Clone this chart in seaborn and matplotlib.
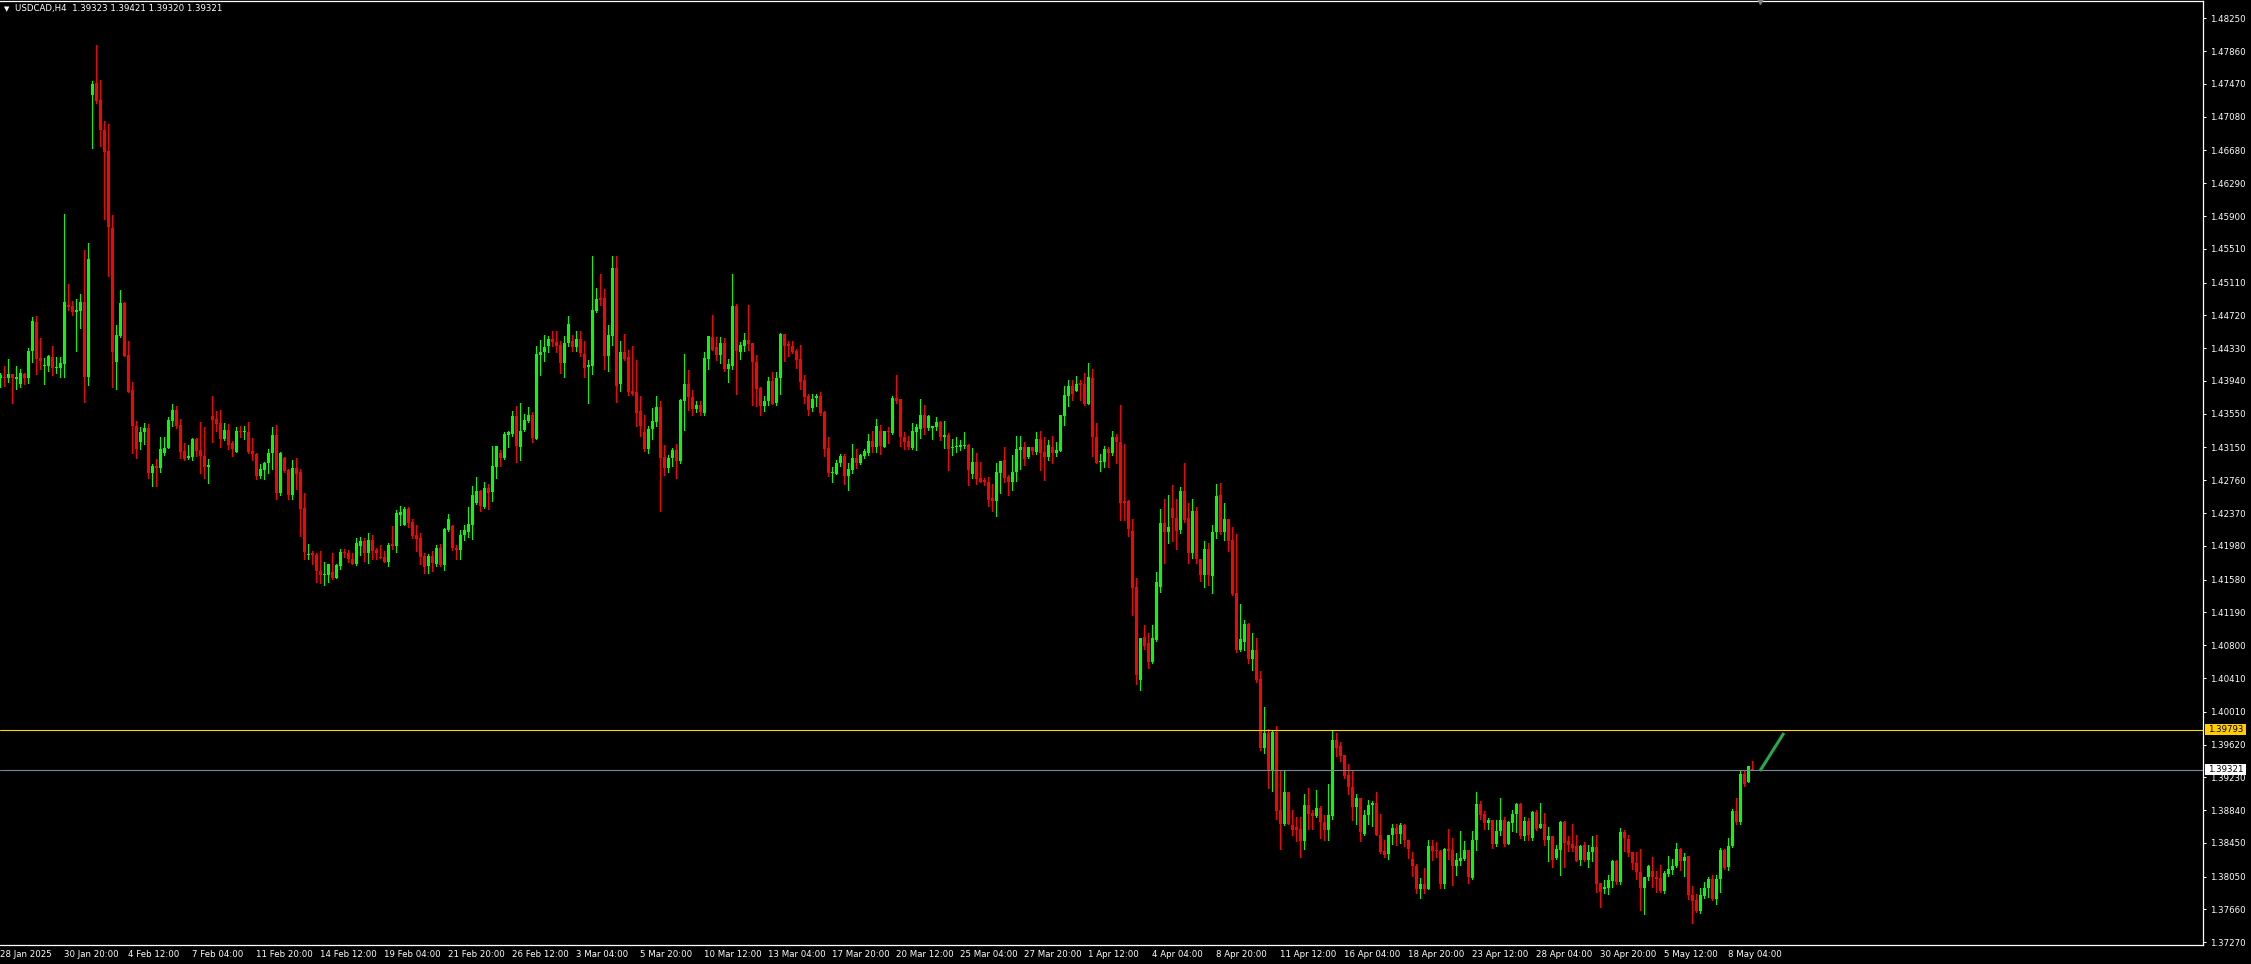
import numpy as np
import matplotlib
matplotlib.use("Agg")
import matplotlib.pyplot as plt
from matplotlib.patches import Rectangle
from matplotlib import font_manager
import seaborn as sns

# USDCAD H4 bars (oldest first)
opens = [
    1.4397, 1.4399, 1.4397, 1.4402, 1.4396, 1.4390, 1.4402, 1.4397, 1.4430, 1.4464,
    1.4421, 1.4412, 1.4412, 1.4423, 1.4409, 1.4409, 1.4414, 1.4484, 1.4483, 1.4476,
    1.4477, 1.4488, 1.4399, 1.4734, 1.4748, 1.4728, 1.4692, 1.4667, 1.4576, 1.4416,
    1.4448, 1.4487, 1.4425, 1.4383, 1.4340, 1.4321, 1.4333, 1.4338, 1.4285, 1.4293,
    1.4291, 1.4308, 1.4314, 1.4347, 1.4360, 1.4342, 1.4311, 1.4302, 1.4304, 1.4325,
    1.4312, 1.4305, 1.4292, 1.4352, 1.4349, 1.4344, 1.4325, 1.4336, 1.4320, 1.4310,
    1.4334, 1.4333, 1.4333, 1.4311, 1.4307, 1.4281, 1.4288, 1.4296, 1.4308, 1.4330,
    1.4261, 1.4303, 1.4288, 1.4258, 1.4291, 1.4286, 1.4243, 1.4187, 1.4189, 1.4187,
    1.4168, 1.4164, 1.4164, 1.4167, 1.4160, 1.4174, 1.4191, 1.4189, 1.4183, 1.4176,
    1.4198, 1.4204, 1.4190, 1.4205, 1.4193, 1.4185, 1.4185, 1.4179, 1.4200, 1.4198,
    1.4235, 1.4223, 1.4242, 1.4226, 1.4211, 1.4207, 1.4186, 1.4174, 1.4186, 1.4177,
    1.4196, 1.4175, 1.4217, 1.4222, 1.4196, 1.4193, 1.4211, 1.4215, 1.4223, 1.4249,
    1.4263, 1.4244, 1.4267, 1.4262, 1.4292, 1.4309, 1.4302, 1.4330, 1.4331, 1.4352,
    1.4316, 1.4336, 1.4347, 1.4354, 1.4325, 1.4425, 1.4429, 1.4435, 1.4444, 1.4440,
    1.4437, 1.4415, 1.4439, 1.4442, 1.4434, 1.4444, 1.4426, 1.4411, 1.4412, 1.4477,
    1.4493, 1.4493, 1.4424, 1.4448, 1.4528, 1.4391, 1.4429, 1.4422, 1.4382, 1.4381,
    1.4358, 1.4333, 1.4313, 1.4337, 1.4345, 1.4363, 1.4304, 1.4291, 1.4302, 1.4312,
    1.4299, 1.4370, 1.4391, 1.4375, 1.4361, 1.4366, 1.4356, 1.4420, 1.4446, 1.4434,
    1.4425, 1.4439, 1.4408, 1.4412, 1.4483, 1.4429, 1.4436, 1.4443, 1.4439, 1.4416,
    1.4386, 1.4364, 1.4370, 1.4394, 1.4368, 1.4397, 1.4450, 1.4438, 1.4436, 1.4430,
    1.4420, 1.4395, 1.4376, 1.4362, 1.4374, 1.4376, 1.4357, 1.4314, 1.4285, 1.4284,
    1.4296, 1.4305, 1.4281, 1.4288, 1.4303, 1.4297, 1.4305, 1.4308, 1.4323, 1.4316,
    1.4334, 1.4316, 1.4334, 1.4332, 1.4374, 1.4372, 1.4327, 1.4323, 1.4314, 1.4333,
    1.4337, 1.4353, 1.4338, 1.4338, 1.4339, 1.4345, 1.4328, 1.4330, 1.4314, 1.4315,
    1.4316, 1.4317, 1.4318, 1.4284, 1.4298, 1.4279, 1.4276, 1.4274, 1.4255, 1.4251,
    1.4285, 1.4300, 1.4280, 1.4274, 1.4286, 1.4312, 1.4316, 1.4304, 1.4315, 1.4310,
    1.4325, 1.4310, 1.4304, 1.4316, 1.4308, 1.4311, 1.4352, 1.4376, 1.4388, 1.4382,
    1.4392, 1.4390, 1.4367, 1.4398, 1.4327, 1.4298, 1.4298, 1.4313, 1.4309, 1.4327,
    1.4321, 1.4251, 1.4251, 1.4216, 1.4149, 1.4039, 1.4090, 1.4083, 1.4060, 1.4086,
    1.4149, 1.4225, 1.4215, 1.4243, 1.4231, 1.4217, 1.4263, 1.4231, 1.4189, 1.4239,
    1.4182, 1.4164, 1.4194, 1.4162, 1.4214, 1.4259, 1.4214, 1.4230, 1.4205, 1.4142,
    1.4074, 1.4084, 1.4105, 1.4064, 1.4074, 1.4040, 1.3958, 1.3976, 1.3930, 1.3977,
    1.3884, 1.3868, 1.3905, 1.3866, 1.3864, 1.3862, 1.3847, 1.3890, 1.3881, 1.3877,
    1.3887, 1.3870, 1.3861, 1.3877, 1.3967, 1.3960, 1.3949, 1.3926, 1.3912, 1.3888,
    1.3898, 1.3856, 1.3878, 1.3890, 1.3892, 1.3855, 1.3835, 1.3832, 1.3854, 1.3863,
    1.3856, 1.3866, 1.3849, 1.3826, 1.3818, 1.3790, 1.3796, 1.3790, 1.3841, 1.3837,
    1.3836, 1.3796, 1.3838, 1.3837, 1.3818, 1.3824, 1.3826, 1.3837, 1.3803, 1.3849,
    1.3891, 1.3880, 1.3869, 1.3872, 1.3844, 1.3859, 1.3872, 1.3844, 1.3869, 1.3880,
    1.3891, 1.3853, 1.3871, 1.3851, 1.3882, 1.3863, 1.3868, 1.3848, 1.3853, 1.3827,
    1.3837, 1.3870, 1.3847, 1.3844, 1.3841, 1.3825, 1.3842, 1.3825, 1.3834, 1.3840,
    1.3797, 1.3790, 1.3792, 1.3800, 1.3824, 1.3799, 1.3858, 1.3850, 1.3834, 1.3821,
    1.3810, 1.3792, 1.3804, 1.3812, 1.3804, 1.3803, 1.3788, 1.3808, 1.3813, 1.3818,
    1.3838, 1.3824, 1.3829, 1.3783, 1.3777, 1.3764, 1.3782, 1.3791, 1.3802, 1.3779,
    1.3802, 1.3837, 1.3816, 1.3841, 1.3883, 1.3870, 1.3927, 1.3917, 1.39323,
]
highs = [
    1.4404, 1.4412, 1.4420, 1.4402, 1.4412, 1.4408, 1.4404, 1.4433, 1.4470, 1.4471,
    1.4445, 1.4421, 1.4425, 1.4435, 1.4422, 1.4422, 1.4593, 1.4509, 1.4489, 1.4492,
    1.4497, 1.4550, 1.4558, 1.4750, 1.4793, 1.4752, 1.4703, 1.4699, 1.4591, 1.4461,
    1.4502, 1.4488, 1.4441, 1.4393, 1.4346, 1.4339, 1.4344, 1.4343, 1.4295, 1.4301,
    1.4328, 1.4327, 1.4351, 1.4367, 1.4364, 1.4349, 1.4320, 1.4318, 1.4326, 1.4326,
    1.4345, 1.4339, 1.4301, 1.4376, 1.4358, 1.4360, 1.4344, 1.4343, 1.4323, 1.4339,
    1.4340, 1.4340, 1.4345, 1.4326, 1.4309, 1.4295, 1.4298, 1.4313, 1.4339, 1.4342,
    1.4310, 1.4304, 1.4290, 1.4300, 1.4303, 1.4289, 1.4261, 1.4200, 1.4192, 1.4190,
    1.4192, 1.4179, 1.4177, 1.4189, 1.4176, 1.4194, 1.4194, 1.4193, 1.4189, 1.4207,
    1.4209, 1.4207, 1.4213, 1.4211, 1.4196, 1.4199, 1.4192, 1.4201, 1.4222, 1.4241,
    1.4245, 1.4244, 1.4244, 1.4230, 1.4223, 1.4213, 1.4189, 1.4188, 1.4192, 1.4199,
    1.4200, 1.4219, 1.4236, 1.4223, 1.4199, 1.4217, 1.4223, 1.4244, 1.4269, 1.4280,
    1.4265, 1.4274, 1.4272, 1.4317, 1.4317, 1.4312, 1.4333, 1.4334, 1.4358, 1.4364,
    1.4368, 1.4355, 1.4363, 1.4357, 1.4435, 1.4443, 1.4449, 1.4448, 1.4453, 1.4453,
    1.4442, 1.4448, 1.4471, 1.4449, 1.4453, 1.4453, 1.4441, 1.4419, 1.4542, 1.4505,
    1.4521, 1.4503, 1.4460, 1.4543, 1.4542, 1.4441, 1.4450, 1.4431, 1.4436, 1.4419,
    1.4376, 1.4354, 1.4341, 1.4362, 1.4376, 1.4370, 1.4318, 1.4306, 1.4314, 1.4319,
    1.4372, 1.4426, 1.4407, 1.4383, 1.4370, 1.4370, 1.4429, 1.4447, 1.4472, 1.4446,
    1.4446, 1.4445, 1.4420, 1.4521, 1.4485, 1.4440, 1.4451, 1.4484, 1.4439, 1.4425,
    1.4387, 1.4376, 1.4399, 1.4405, 1.4405, 1.4451, 1.4450, 1.4441, 1.4442, 1.4432,
    1.4437, 1.4401, 1.4379, 1.4378, 1.4379, 1.4381, 1.4358, 1.4328, 1.4292, 1.4300,
    1.4307, 1.4307, 1.4297, 1.4319, 1.4313, 1.4307, 1.4313, 1.4331, 1.4335, 1.4349,
    1.4342, 1.4335, 1.4339, 1.4376, 1.4401, 1.4372, 1.4333, 1.4329, 1.4344, 1.4343,
    1.4373, 1.4366, 1.4353, 1.4341, 1.4351, 1.4347, 1.4347, 1.4332, 1.4325, 1.4327,
    1.4324, 1.4333, 1.4319, 1.4314, 1.4309, 1.4298, 1.4279, 1.4280, 1.4272, 1.4296,
    1.4299, 1.4316, 1.4282, 1.4306, 1.4329, 1.4329, 1.4321, 1.4316, 1.4316, 1.4333,
    1.4334, 1.4327, 1.4324, 1.4329, 1.4321, 1.4354, 1.4388, 1.4395, 1.4395, 1.4400,
    1.4395, 1.4403, 1.4415, 1.4408, 1.4344, 1.4307, 1.4317, 1.4316, 1.4334, 1.4331,
    1.4365, 1.4319, 1.4253, 1.4230, 1.4160, 1.4089, 1.4104, 1.4094, 1.4104, 1.4167,
    1.4242, 1.4254, 1.4259, 1.4270, 1.4254, 1.4268, 1.4297, 1.4249, 1.4254, 1.4244,
    1.4182, 1.4204, 1.4202, 1.4223, 1.4272, 1.4273, 1.4249, 1.4230, 1.4221, 1.4212,
    1.4129, 1.4110, 1.4106, 1.4095, 1.4089, 1.4049, 1.4007, 1.3981, 1.3978, 1.3984,
    1.3932, 1.3932, 1.3905, 1.3884, 1.3876, 1.3876, 1.3903, 1.3910, 1.3884, 1.3908,
    1.3889, 1.3878, 1.3915, 1.3978, 1.3976, 1.3965, 1.3950, 1.3939, 1.3931, 1.3903,
    1.3899, 1.3884, 1.3896, 1.3895, 1.3906, 1.3879, 1.3849, 1.3854, 1.3868, 1.3868,
    1.3869, 1.3867, 1.3849, 1.3834, 1.3820, 1.3803, 1.3815, 1.3849, 1.3849, 1.3846,
    1.3837, 1.3839, 1.3862, 1.3851, 1.3833, 1.3859, 1.3847, 1.3837, 1.3859, 1.3905,
    1.3895, 1.3883, 1.3875, 1.3872, 1.3872, 1.3899, 1.3876, 1.3871, 1.3884, 1.3893,
    1.3892, 1.3876, 1.3875, 1.3883, 1.3884, 1.3893, 1.3881, 1.3864, 1.3853, 1.3842,
    1.3871, 1.3871, 1.3853, 1.3868, 1.3855, 1.3843, 1.3846, 1.3843, 1.3853, 1.3855,
    1.3798, 1.3801, 1.3807, 1.3825, 1.3825, 1.3863, 1.3860, 1.3855, 1.3834, 1.3834,
    1.3838, 1.3805, 1.3819, 1.3828, 1.3812, 1.3819, 1.3812, 1.3829, 1.3826, 1.3845,
    1.3839, 1.3833, 1.3830, 1.3794, 1.3784, 1.3792, 1.3799, 1.3804, 1.3807, 1.3807,
    1.3839, 1.3838, 1.3851, 1.3885, 1.3899, 1.3932, 1.3932, 1.3937, 1.39421,
]
lows = [
    1.4387, 1.4388, 1.4393, 1.4368, 1.4384, 1.4387, 1.4390, 1.4392, 1.4417, 1.4402,
    1.4408, 1.4390, 1.4406, 1.4401, 1.4404, 1.4399, 1.4399, 1.4478, 1.4472, 1.4430,
    1.4457, 1.4369, 1.4389, 1.4671, 1.4724, 1.4673, 1.4587, 1.4519, 1.4387, 1.4385,
    1.4446, 1.4424, 1.4381, 1.4308, 1.4302, 1.4313, 1.4319, 1.4279, 1.4269, 1.4269,
    1.4286, 1.4306, 1.4314, 1.4340, 1.4338, 1.4303, 1.4300, 1.4301, 1.4300, 1.4305,
    1.4285, 1.4279, 1.4273, 1.4321, 1.4335, 1.4315, 1.4324, 1.4313, 1.4305, 1.4310,
    1.4328, 1.4325, 1.4308, 1.4300, 1.4277, 1.4279, 1.4277, 1.4285, 1.4290, 1.4254,
    1.4258, 1.4286, 1.4254, 1.4254, 1.4266, 1.4210, 1.4183, 1.4182, 1.4176, 1.4155,
    1.4154, 1.4151, 1.4155, 1.4159, 1.4160, 1.4171, 1.4185, 1.4179, 1.4176, 1.4175,
    1.4187, 1.4180, 1.4178, 1.4182, 1.4183, 1.4184, 1.4179, 1.4174, 1.4194, 1.4191,
    1.4223, 1.4223, 1.4220, 1.4208, 1.4192, 1.4177, 1.4166, 1.4166, 1.4168, 1.4174,
    1.4174, 1.4169, 1.4216, 1.4193, 1.4182, 1.4183, 1.4205, 1.4209, 1.4206, 1.4248,
    1.4239, 1.4243, 1.4242, 1.4251, 1.4279, 1.4293, 1.4301, 1.4315, 1.4329, 1.4298,
    1.4300, 1.4334, 1.4345, 1.4322, 1.4325, 1.4401, 1.4418, 1.4429, 1.4435, 1.4428,
    1.4403, 1.4399, 1.4435, 1.4430, 1.4430, 1.4424, 1.4399, 1.4368, 1.4402, 1.4476,
    1.4484, 1.4408, 1.4406, 1.4437, 1.4369, 1.4382, 1.4419, 1.4377, 1.4377, 1.4341,
    1.4329, 1.4311, 1.4309, 1.4325, 1.4341, 1.4239, 1.4282, 1.4286, 1.4293, 1.4279,
    1.4297, 1.4336, 1.4359, 1.4354, 1.4357, 1.4354, 1.4353, 1.4408, 1.4431, 1.4419,
    1.4415, 1.4406, 1.4393, 1.4408, 1.4379, 1.4420, 1.4430, 1.4431, 1.4365, 1.4364,
    1.4353, 1.4358, 1.4365, 1.4367, 1.4365, 1.4379, 1.4418, 1.4424, 1.4427, 1.4410,
    1.4385, 1.4368, 1.4354, 1.4358, 1.4364, 1.4354, 1.4305, 1.4281, 1.4274, 1.4284,
    1.4293, 1.4272, 1.4264, 1.4285, 1.4291, 1.4295, 1.4302, 1.4306, 1.4310, 1.4310,
    1.4307, 1.4315, 1.4320, 1.4331, 1.4368, 1.4317, 1.4313, 1.4313, 1.4313, 1.4312,
    1.4326, 1.4331, 1.4336, 1.4325, 1.4336, 1.4324, 1.4314, 1.4288, 1.4306, 1.4310,
    1.4312, 1.4314, 1.4270, 1.4279, 1.4272, 1.4274, 1.4270, 1.4246, 1.4240, 1.4234,
    1.4261, 1.4274, 1.4259, 1.4264, 1.4275, 1.4290, 1.4294, 1.4303, 1.4307, 1.4307,
    1.4288, 1.4276, 1.4300, 1.4297, 1.4305, 1.4311, 1.4342, 1.4364, 1.4371, 1.4382,
    1.4371, 1.4365, 1.4367, 1.4305, 1.4296, 1.4287, 1.4292, 1.4292, 1.4306, 1.4296,
    1.4229, 1.4229, 1.4210, 1.4116, 1.4034, 1.4027, 1.4076, 1.4053, 1.4059, 1.4085,
    1.4143, 1.4178, 1.4201, 1.4204, 1.4194, 1.4213, 1.4227, 1.4178, 1.4184, 1.4178,
    1.4156, 1.4149, 1.4151, 1.4142, 1.4207, 1.4212, 1.4205, 1.4192, 1.4140, 1.4072,
    1.4073, 1.4074, 1.4059, 1.4051, 1.4036, 1.3956, 1.3952, 1.3910, 1.3907, 1.3873,
    1.3838, 1.3866, 1.3868, 1.3854, 1.3847, 1.3828, 1.3838, 1.3862, 1.3862, 1.3876,
    1.3851, 1.3849, 1.3849, 1.3874, 1.3948, 1.3943, 1.3922, 1.3903, 1.3872, 1.3867,
    1.3847, 1.3854, 1.3868, 1.3865, 1.3854, 1.3833, 1.3828, 1.3826, 1.3844, 1.3843,
    1.3845, 1.3841, 1.3827, 1.3806, 1.3785, 1.3780, 1.3785, 1.3790, 1.3825, 1.3828,
    1.3792, 1.3792, 1.3826, 1.3795, 1.3807, 1.3819, 1.3825, 1.3798, 1.3802, 1.3837,
    1.3873, 1.3862, 1.3862, 1.3839, 1.3841, 1.3855, 1.3841, 1.3844, 1.3859, 1.3858,
    1.3851, 1.3848, 1.3848, 1.3848, 1.3861, 1.3863, 1.3843, 1.3824, 1.3816, 1.3826,
    1.3807, 1.3816, 1.3835, 1.3835, 1.3823, 1.3819, 1.3824, 1.3817, 1.3824, 1.3787,
    1.3769, 1.3785, 1.3784, 1.3793, 1.3796, 1.3796, 1.3835, 1.3829, 1.3814, 1.3802,
    1.3765, 1.3760, 1.3801, 1.3793, 1.3787, 1.3787, 1.3786, 1.3806, 1.3808, 1.3817,
    1.3813, 1.3806, 1.3778, 1.3750, 1.3763, 1.3762, 1.3780, 1.3781, 1.3777, 1.3772,
    1.3787, 1.3814, 1.3813, 1.3840, 1.3867, 1.3867, 1.3913, 1.3917, 1.39320,
]
closes = [
    1.4401, 1.4397, 1.4402, 1.4397, 1.4399, 1.4404, 1.4397, 1.4430, 1.4465, 1.4420,
    1.4418, 1.4413, 1.4424, 1.4409, 1.4410, 1.4415, 1.4488, 1.4482, 1.4476, 1.4478,
    1.4488, 1.4399, 1.4539, 1.4747, 1.4727, 1.4692, 1.4666, 1.4577, 1.4428, 1.4449,
    1.4487, 1.4424, 1.4381, 1.4340, 1.4313, 1.4333, 1.4338, 1.4285, 1.4293, 1.4291,
    1.4313, 1.4314, 1.4348, 1.4360, 1.4341, 1.4310, 1.4301, 1.4305, 1.4325, 1.4311,
    1.4305, 1.4292, 1.4294, 1.4348, 1.4343, 1.4325, 1.4336, 1.4318, 1.4313, 1.4334,
    1.4333, 1.4334, 1.4310, 1.4307, 1.4281, 1.4289, 1.4296, 1.4309, 1.4330, 1.4261,
    1.4309, 1.4287, 1.4258, 1.4291, 1.4284, 1.4242, 1.4191, 1.4188, 1.4187, 1.4168,
    1.4164, 1.4165, 1.4176, 1.4160, 1.4175, 1.4191, 1.4189, 1.4182, 1.4176, 1.4201,
    1.4204, 1.4190, 1.4205, 1.4192, 1.4190, 1.4184, 1.4179, 1.4199, 1.4198, 1.4237,
    1.4238, 1.4242, 1.4225, 1.4210, 1.4206, 1.4185, 1.4173, 1.4186, 1.4178, 1.4196,
    1.4175, 1.4218, 1.4230, 1.4195, 1.4193, 1.4211, 1.4217, 1.4224, 1.4259, 1.4263,
    1.4245, 1.4267, 1.4261, 1.4293, 1.4317, 1.4303, 1.4331, 1.4333, 1.4352, 1.4317,
    1.4335, 1.4348, 1.4354, 1.4326, 1.4426, 1.4429, 1.4434, 1.4444, 1.4440, 1.4436,
    1.4415, 1.4439, 1.4462, 1.4434, 1.4444, 1.4427, 1.4410, 1.4413, 1.4478, 1.4492,
    1.4490, 1.4424, 1.4449, 1.4528, 1.4388, 1.4429, 1.4420, 1.4381, 1.4379, 1.4356,
    1.4341, 1.4313, 1.4337, 1.4346, 1.4363, 1.4303, 1.4291, 1.4302, 1.4312, 1.4299,
    1.4371, 1.4391, 1.4375, 1.4361, 1.4366, 1.4357, 1.4421, 1.4447, 1.4431, 1.4425,
    1.4439, 1.4408, 1.4414, 1.4483, 1.4430, 1.4437, 1.4443, 1.4438, 1.4416, 1.4385,
    1.4364, 1.4370, 1.4394, 1.4367, 1.4398, 1.4450, 1.4436, 1.4435, 1.4429, 1.4419,
    1.4393, 1.4375, 1.4359, 1.4373, 1.4376, 1.4356, 1.4313, 1.4285, 1.4286, 1.4297,
    1.4305, 1.4281, 1.4289, 1.4303, 1.4297, 1.4306, 1.4311, 1.4323, 1.4316, 1.4340,
    1.4317, 1.4334, 1.4333, 1.4374, 1.4370, 1.4327, 1.4321, 1.4315, 1.4334, 1.4339,
    1.4353, 1.4338, 1.4352, 1.4340, 1.4345, 1.4328, 1.4330, 1.4313, 1.4316, 1.4317,
    1.4318, 1.4318, 1.4288, 1.4298, 1.4278, 1.4274, 1.4274, 1.4253, 1.4251, 1.4286,
    1.4299, 1.4279, 1.4274, 1.4286, 1.4313, 1.4316, 1.4301, 1.4315, 1.4311, 1.4325,
    1.4308, 1.4304, 1.4318, 1.4308, 1.4312, 1.4353, 1.4377, 1.4388, 1.4379, 1.4391,
    1.4389, 1.4367, 1.4399, 1.4327, 1.4297, 1.4299, 1.4313, 1.4309, 1.4327, 1.4321,
    1.4249, 1.4249, 1.4218, 1.4148, 1.4045, 1.4089, 1.4079, 1.4060, 1.4089, 1.4155,
    1.4225, 1.4215, 1.4221, 1.4231, 1.4216, 1.4263, 1.4229, 1.4189, 1.4239, 1.4182,
    1.4164, 1.4194, 1.4164, 1.4215, 1.4257, 1.4214, 1.4230, 1.4204, 1.4141, 1.4074,
    1.4087, 1.4105, 1.4064, 1.4074, 1.4039, 1.3958, 1.3976, 1.3930, 1.3977, 1.3883,
    1.3868, 1.3905, 1.3868, 1.3861, 1.3860, 1.3847, 1.3890, 1.3880, 1.3877, 1.3887,
    1.3870, 1.3861, 1.3878, 1.3967, 1.3958, 1.3948, 1.3925, 1.3911, 1.3888, 1.3898,
    1.3858, 1.3878, 1.3890, 1.3892, 1.3854, 1.3834, 1.3831, 1.3854, 1.3863, 1.3856,
    1.3866, 1.3849, 1.3838, 1.3818, 1.3790, 1.3796, 1.3790, 1.3841, 1.3836, 1.3835,
    1.3796, 1.3838, 1.3836, 1.3818, 1.3825, 1.3827, 1.3837, 1.3804, 1.3849, 1.3891,
    1.3878, 1.3869, 1.3872, 1.3844, 1.3859, 1.3872, 1.3844, 1.3870, 1.3880, 1.3891,
    1.3853, 1.3871, 1.3854, 1.3882, 1.3862, 1.3868, 1.3848, 1.3853, 1.3825, 1.3838,
    1.3870, 1.3845, 1.3842, 1.3839, 1.3824, 1.3841, 1.3825, 1.3834, 1.3840, 1.3796,
    1.3787, 1.3793, 1.3801, 1.3824, 1.3799, 1.3858, 1.3851, 1.3833, 1.3821, 1.3810,
    1.3792, 1.3804, 1.3818, 1.3804, 1.3802, 1.3788, 1.3809, 1.3814, 1.3818, 1.3838,
    1.3824, 1.3828, 1.3783, 1.3776, 1.3764, 1.3783, 1.3792, 1.3802, 1.3779, 1.3802,
    1.3837, 1.3815, 1.3841, 1.3883, 1.3870, 1.3927, 1.3915, 1.3936, 1.39321,
]

date_labels = [
    "28 Jan 2025", "30 Jan 20:00", "4 Feb 12:00", "7 Feb 04:00", "11 Feb 20:00",
    "14 Feb 12:00", "19 Feb 04:00", "21 Feb 20:00", "26 Feb 12:00", "3 Mar 04:00",
    "5 Mar 20:00", "10 Mar 12:00", "13 Mar 04:00", "17 Mar 20:00", "20 Mar 12:00",
    "25 Mar 04:00", "27 Mar 20:00", "1 Apr 12:00", "4 Apr 04:00", "8 Apr 20:00",
    "11 Apr 12:00", "16 Apr 04:00", "18 Apr 20:00", "23 Apr 12:00", "28 Apr 04:00",
    "30 Apr 20:00", "5 May 12:00", "8 May 04:00",
]
bars_per_label = 16

price_ticks = [
    1.48250, 1.47860, 1.47470, 1.47080, 1.46680, 1.46290, 1.45900, 1.45510,
    1.45110, 1.44720, 1.44330, 1.43940, 1.43550, 1.43150, 1.42760, 1.42370,
    1.41980, 1.41580, 1.41190, 1.40800, 1.40410, 1.40010, 1.39620, 1.39230,
    1.38840, 1.38450, 1.38050, 1.37660, 1.37270,
]

symbol = "USDCAD,H4"
last_quote = [1.39323, 1.39421, 1.39320, 1.39321]
level_price = 1.39793
bid_price = 1.39321
trend_bars = [439.9, 445.9]
trend_prices = [1.39305, 1.39757]

W, H = 2251, 964
PX = 1 / 8415  # price per pixel on this chart

sns.set_theme(style="dark", rc={
    "figure.facecolor": "black", "axes.facecolor": "black",
    "axes.edgecolor": "white", "text.color": "white",
    "xtick.color": "white", "ytick.color": "white", "axes.grid": False,
})
installed = {f.name for f in font_manager.fontManager.ttflist}
if "Liberation Sans Narrow" in installed:
    main_font, fs = "Liberation Sans Narrow", 8
else:
    main_font, fs = "DejaVu Sans", 6.2
plt.rcParams["font.family"] = [main_font, "DejaVu Sans"]

fig = plt.figure(figsize=(W / 100, H / 100), dpi=100)
ax = fig.add_axes([0, (H - 944.5) / H, 2203 / W, 943.5 / H])
ax.set_facecolor("black")

o = np.array(opens)
hi = np.array(highs)
lo = np.array(lows)
c = np.array(closes)
x = np.arange(len(o))
colors = np.where(c >= o, "#00FF00", "#FF0000")

ax.vlines(x, lo, hi, colors=colors, linewidth=0.72, antialiased=False, zorder=2)
body = np.maximum(np.abs(c - o), PX)
ax.bar(x, body, bottom=np.minimum(o, c), width=0.75, color=colors,
       linewidth=0, antialiased=False, zorder=3)

ax.axhline(level_price, color="#FFD700", linewidth=0.8, zorder=4)
ax.axhline(bid_price, color="#778899", linewidth=0.8, zorder=4)
ax.plot(trend_bars, trend_prices, color="#27A84A", linewidth=2.2,
        solid_capstyle="butt", zorder=5)

ax.set_xlim(-0.075, (2203 - 0.3) / 4)
ax.set_ylim(1.4825 - (944.5 - 18.3) * PX, 1.4825 + (18.3 - 1) * PX)

sns.despine(ax=ax, left=True, right=False, top=False, bottom=False)
for s in ["top", "right", "bottom"]:
    ax.spines[s].set_color("white")
    ax.spines[s].set_linewidth(0.9)

ax.yaxis.tick_right()
ax.set_yticks(price_ticks)
ax.set_yticklabels([f"{v:.5f}" for v in price_ticks])
ax.tick_params(axis="y", direction="out", length=2.5, width=0.72,
               colors="white", labelsize=fs, pad=2.5)

ax.set_xticks(np.arange(len(date_labels)) * bars_per_label)
ax.set_xticklabels(date_labels, ha="left")
ax.tick_params(axis="x", direction="out", length=3, width=0.72,
               colors="white", labelsize=fs, pad=1.2)

# price tags on the scale
ytr = ax.get_yaxis_transform()
for price, face in [(level_price, "#FFCC00"), (bid_price, "white")]:
    ax.add_patch(Rectangle((1 + 1.7 / 2203, price - 5.5 * PX), 41 / 2203, 11 * PX,
                           transform=ytr, facecolor=face, edgecolor="none",
                           clip_on=False, zorder=10))
    ax.text(1 + 5.5 / 2203, price, f"{price:.5f}", transform=ytr, color="black",
            fontsize=fs, ha="left", va="center", clip_on=False, zorder=11)

# chart header
fig.text(4 / W, 1 - 9 / H, "\u25bc", fontsize=5, color="white",
         family=["DejaVu Sans"], ha="left", va="center")
fig.text(15 / W, 1 - 8.5 / H,
         symbol + "  " + " ".join(f"{v:.5f}" for v in last_quote),
         fontsize=fs, color="white", ha="left", va="center")

# chart shift marker
ax.plot([440], [ax.get_ylim()[1]], marker="v", markersize=5, color="#808080",
        clip_on=False, zorder=6)

fig.savefig("out.png", dpi=100, facecolor="black")
